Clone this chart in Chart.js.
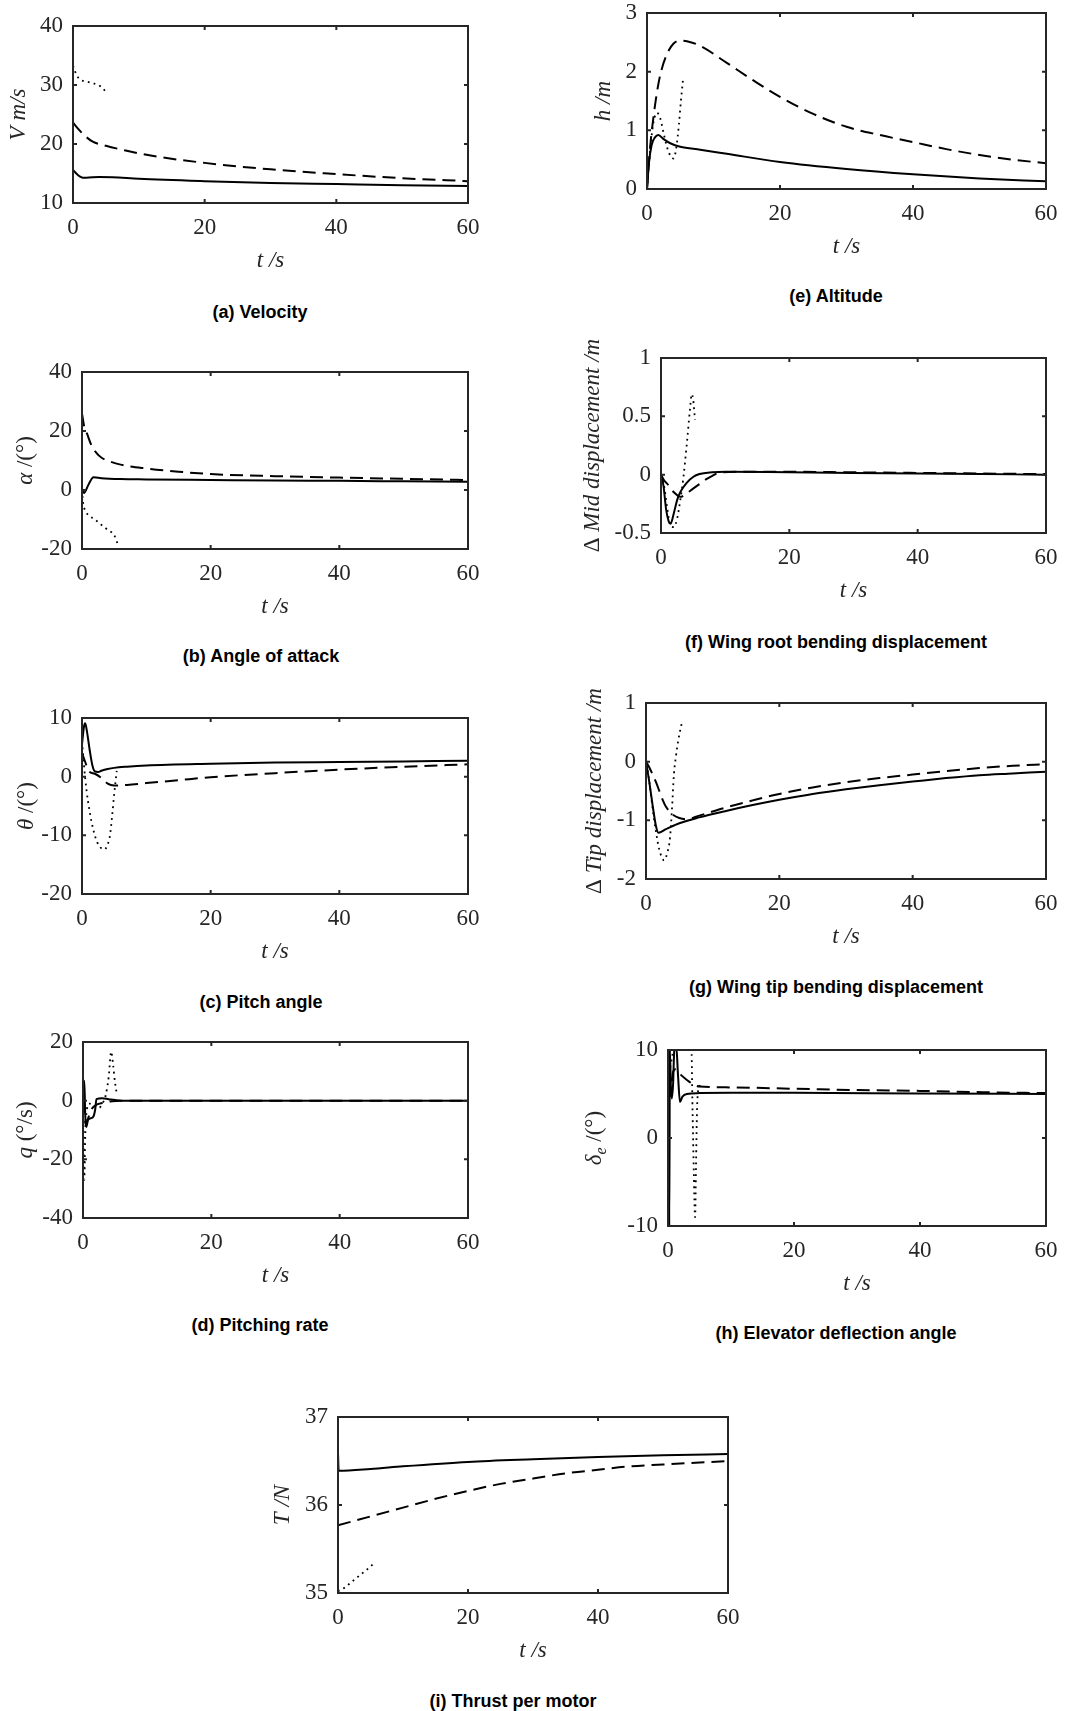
<!DOCTYPE html>
<html>
<head>
<meta charset="utf-8">
<script src="https://cdn.jsdelivr.net/npm/chart.js@4.4.1/dist/chart.umd.min.js"></script>
<style>
  body { margin: 0; background: #fff; }
  #page { position: relative; width: 1075px; height: 1711px; overflow: hidden; background: #fff; }
  canvas { position: absolute; }
  .cap { position: absolute; transform: translate(-50%, -50%); white-space: nowrap;
         font: bold 18px "Liberation Sans", Arial, sans-serif; color: #000; }
</style>
</head>
<body>
<div id="page"></div>
<script>
// time histories, [t (s), value]: solid / dashed / dotted
const velSolid = [[0,15.6],[0.5,15.0],[1,14.5],[1.5,14.3],[2,14.3],[4,14.4],[6,14.35],[10,14.1],[20,13.7],[30,13.4],[40,13.2],[50,13.0],[60,12.9]];
const velDashed = [[0,23.6],[1,22.3],[2,21.2],[3,20.4],[5,19.7],[8,18.9],[12,18.0],[20,16.8],[30,15.7],[40,14.9],[50,14.2],[60,13.7]];
const velDotted = [[0,33.3],[0.5,31.8],[1,31.0],[2,30.6],[3,30.3],[4,29.9],[4.5,29.5],[5.2,28.5]];

const altSolid = [[0,0],[0.3,0.45],[0.7,0.75],[1.2,0.88],[1.7,0.92],[2.5,0.85],[3.5,0.78],[5,0.72],[8,0.67],[12,0.6],[20,0.46],[30,0.34],[40,0.25],[50,0.18],[60,0.13]];
const altDashed = [[0,0],[0.5,0.75],[1,1.25],[1.5,1.65],[2,1.95],[3,2.3],[4,2.48],[5,2.53],[6,2.52],[8,2.44],[12,2.15],[16,1.85],[20,1.57],[25,1.28],[30,1.06],[35,0.92],[40,0.8],[45,0.68],[50,0.58],[55,0.5],[60,0.44]];
const altDotted = [[0,0],[0.5,0.7],[1,1.15],[1.5,1.3],[2,1.2],[2.5,0.95],[3,0.72],[3.5,0.57],[4,0.52],[4.4,0.7],[4.8,1.1],[5.1,1.5],[5.4,1.85]];

const aoaSolid = [[0,0.5],[0.3,-1],[1,1.8],[1.8,4.3],[3,4.0],[6,3.7],[10,3.6],[20,3.4],[30,3.2],[40,3.1],[50,2.95],[60,2.8]];
const aoaDashed = [[0,26],[0.3,22],[0.8,19],[1.5,15],[2.3,12.4],[3,11],[4.3,9.7],[6,8.6],[10,7.3],[15,6.2],[20,5.4],[30,4.7],[40,4.2],[50,3.8],[60,3.4]];
const aoaDotted = [[0,0],[0.15,-4],[0.5,-7],[1,-8.5],[2,-10],[3,-11.8],[4,-13.5],[5,-15.3],[5.5,-18]];

const midSolid = [[0,0],[0.4,-0.1],[0.8,-0.3],[1.2,-0.4],[1.5,-0.42],[2,-0.33],[2.5,-0.22],[3,-0.15],[4,-0.07],[5,-0.02],[6,0.005],[8,0.02],[10,0.025],[20,0.02],[30,0.015],[40,0.01],[50,0.005],[60,0]];
const midDashed = [[0,0],[0.5,-0.05],[1,-0.08],[1.5,-0.12],[2,-0.15],[3,-0.19],[4,-0.16],[5,-0.12],[6,-0.08],[7,-0.04],[8,-0.01],[9,0.015],[12,0.025],[20,0.025],[30,0.02],[40,0.015],[50,0.01],[60,0.005]];
const midDotted = [[0,0],[0.5,-0.1],[1,-0.3],[1.5,-0.44],[2,-0.45],[2.5,-0.38],[3,-0.22],[3.5,-0.02],[4,0.25],[4.5,0.55],[4.8,0.69],[5.0,0.65],[5.3,0.47]];

const pitchSolid = [[0,5.5],[0.3,8.5],[0.5,9.1],[0.8,7.5],[1.2,4.5],[1.6,2],[2,0.9],[2.5,0.8],[3,1.0],[4,1.3],[5,1.5],[7,1.7],[10,1.9],[20,2.2],[30,2.4],[40,2.5],[50,2.6],[60,2.7]];
const pitchDashed = [[0,4],[0.5,2.5],[1,1.0],[2,0.5],[3,-0.2],[4,-1.2],[5,-1.5],[7,-1.4],[10,-1.1],[15,-0.6],[20,-0.1],[30,0.6],[40,1.2],[50,1.7],[60,2.1]];
const pitchDotted = [[0,6],[0.3,2],[0.7,-2.3],[1.2,-6],[1.75,-9],[2.3,-11],[2.8,-12],[3.5,-12.4],[4,-11.5],[4.35,-10],[4.7,-6.5],[5,-3],[5.4,1]];

const tipSolid = [[0,0],[0.5,-0.35],[1,-0.75],[1.5,-1.1],[1.85,-1.21],[3,-1.15],[5,-1.05],[8,-0.95],[12,-0.84],[16,-0.74],[20,-0.65],[25,-0.55],[30,-0.47],[35,-0.4],[40,-0.34],[45,-0.28],[50,-0.23],[55,-0.2],[60,-0.17]];
const tipDashed = [[0,0],[0.5,-0.1],[1,-0.22],[1.5,-0.35],[2,-0.5],[2.5,-0.65],[3,-0.77],[4,-0.9],[5,-0.96],[6,-0.98],[8,-0.92],[12,-0.78],[16,-0.66],[20,-0.55],[25,-0.44],[30,-0.35],[35,-0.28],[40,-0.22],[45,-0.16],[50,-0.11],[55,-0.07],[60,-0.045]];
const tipDotted = [[0,0.05],[0.5,-0.35],[1,-0.8],[1.5,-1.2],[2,-1.5],[2.7,-1.68],[3.2,-1.55],[3.6,-1.3],[3.9,-0.8],[4.2,-0.2],[4.5,0.1],[4.85,0.37],[5.35,0.65]];

const rateSolid = [[0,0],[0.1,5],[0.2,6.8],[0.35,-5],[0.5,-9],[0.8,-6.5],[1.2,-6],[1.6,-5.5],[1.9,-3],[2.1,0.5],[3,0.8],[4,0.5],[5,0.2],[6,0],[60,0]];
const rateDashed = [[0,0],[0.2,-3],[0.4,-8],[0.8,-6],[1.3,-3],[2,-1.5],[2.6,-1],[3.5,-0.6],[4.5,-0.2],[6,0],[60,0]];
const rateDotted = [[0,0],[0.1,-15],[0.2,-27],[0.35,-12],[0.6,-3],[1,-1],[2,-2],[2.5,-2.5],[3,-1],[3.5,1.5],[4,8],[4.4,16.7],[4.7,12],[5.0,6],[5.3,2]];

const elevSolid = [[0,5],[0.05,-10.5],[0.12,10.5],[0.2,-10.5],[0.3,10],[0.45,6],[0.6,4.5],[0.8,6],[1.0,10],[1.3,10.5],[1.6,7],[1.9,4.1],[2.3,4.7],[3,5.0],[5,5.1],[10,5.15],[20,5.15],[40,5.05],[60,5.0]];
const elevDashed = [[0,10],[0.2,8],[0.5,6],[0.8,7.5],[1.2,7.8],[2,7.2],[3,6.6],[4,6.1],[5,5.85],[10,5.75],[20,5.6],[30,5.45],[40,5.35],[50,5.2],[60,5.1]];
const elevDotted = [[0,10],[0.3,8],[0.6,9],[1,10.5],[3.7,10.5],[3.9,3],[4.1,-4],[4.3,-9],[4.45,-3],[4.6,3],[4.8,5.5],[5.1,6.0]];

const thrSolid = [[0,36.6],[0.1,36.39],[5,36.41],[10,36.44],[20,36.49],[30,36.52],[40,36.545],[50,36.565],[60,36.58]];
const thrDashed = [[0,35.77],[5,35.87],[10,35.97],[15,36.07],[20,36.16],[25,36.24],[30,36.3],[35,36.36],[40,36.4],[45,36.44],[50,36.46],[55,36.48],[60,36.5]];
const thrDotted = [[0,35.02],[1,35.06],[2,35.12],[3,35.18],[4,35.24],[5,35.3],[5.4,35.33]];

const timeTicks = [0, 20, 40, 60];

// panel layout: plot box on the page, y range, axis label pieces
const panels = [
  { box: [73, 26, 468, 203], y: [10, 40, 10], title: [["V m/s", 1]], tx: 19,
    data: [velSolid, velDashed, velDotted], cap: "(a) Velocity", cx: 260, cy: 312 },
  { box: [647, 13, 1046, 189], y: [0, 3, 1], title: [["h /m", 1]], tx: 604,
    data: [altSolid, altDashed, altDotted], cap: "(e) Altitude", cx: 836, cy: 296 },
  { box: [82, 372, 468, 549], y: [-20, 40, 20], title: [["α", 1], [" /(°)", 0]], tx: 26,
    data: [aoaSolid, aoaDashed, aoaDotted], cap: "(b) Angle of attack", cx: 261, cy: 656 },
  { box: [661, 358, 1046, 533], y: [-0.5, 1, 0.5], title: [["Δ ", 0], ["Mid displacement /m", 1]], tx: 593,
    data: [midSolid, midDashed, midDotted], cap: "(f) Wing root bending displacement", cx: 836, cy: 642 },
  { box: [82, 718, 468, 894], y: [-20, 10, 10], title: [["θ", 1], [" /(°)", 0]], tx: 27,
    data: [pitchSolid, pitchDashed, pitchDotted], cap: "(c) Pitch angle", cx: 261, cy: 1002 },
  { box: [646, 703, 1046, 879], y: [-2, 1, 1], title: [["Δ ", 0], ["Tip displacement /m", 1]], tx: 595,
    data: [tipSolid, tipDashed, tipDotted], cap: "(g) Wing tip bending displacement", cx: 836, cy: 987 },
  { box: [83, 1042, 468, 1218], y: [-40, 20, 20], title: [["q", 1], [" (°/s)", 0]], tx: 26,
    data: [rateSolid, rateDashed, rateDotted], cap: "(d) Pitching rate", cx: 260, cy: 1325 },
  { box: [668, 1050, 1046, 1226], y: [-10, 10, 10], title: [["δ", 1], ["e", 2], [" /(°)", 0]], tx: 595,
    data: [elevSolid, elevDashed, elevDotted], cap: "(h) Elevator deflection angle", cx: 836, cy: 1333 },
  { box: [338, 1417, 728, 1593], y: [35, 37, 1], title: [["T /N", 1]], tx: 283,
    data: [thrSolid, thrDashed, thrDotted], cap: "(i) Thrust per motor", cx: 513, cy: 1701 }
];

const SERIF = "'Liberation Serif', 'DejaVu Serif', serif";
const INK = "#262626";
const X_AXIS_H = 72;
const styles = [
  { borderWidth: 2, borderDash: [] },
  { borderWidth: 2, borderDash: [13, 7] },
  { borderWidth: 1.8, borderDash: [1.8, 4.2] }
];

// box with inward ticks on all four sides, plus the y label
const framePlugin = {
  id: "frame",
  afterDraw(chart, args, opts) {
    const { ctx, chartArea: a, scales } = chart;
    ctx.save();
    ctx.strokeStyle = INK;
    ctx.lineWidth = 2;
    ctx.strokeRect(a.left, a.top, a.right - a.left, a.bottom - a.top);
    ctx.beginPath();
    scales.x.ticks.forEach(t => {
      const px = scales.x.getPixelForValue(t.value);
      ctx.moveTo(px, a.bottom); ctx.lineTo(px, a.bottom - 4);
      ctx.moveTo(px, a.top); ctx.lineTo(px, a.top + 4);
    });
    scales.y.ticks.forEach(t => {
      const py = scales.y.getPixelForValue(t.value);
      ctx.moveTo(a.left, py); ctx.lineTo(a.left + 4, py);
      ctx.moveTo(a.right, py); ctx.lineTo(a.right - 4, py);
    });
    ctx.stroke();

    // rotated y label made of upright / italic / subscript pieces
    const fontOf = k => (k === 0 ? "" : "italic ") + (k === 2 ? "16px " : "23px ") + SERIF;
    let total = 0;
    opts.pieces.forEach(([s, k]) => { ctx.font = fontOf(k); total += ctx.measureText(s).width; });
    ctx.translate(opts.x, (a.top + a.bottom) / 2);
    ctx.rotate(-Math.PI / 2);
    ctx.fillStyle = INK;
    ctx.textBaseline = "middle";
    ctx.textAlign = "left";
    let cur = -total / 2;
    opts.pieces.forEach(([s, k]) => {
      ctx.font = fontOf(k);
      ctx.fillText(s, cur, k === 2 ? 7 : 0);
      cur += ctx.measureText(s).width;
    });
    ctx.restore();
  }
};

const page = document.getElementById("page");

panels.forEach(p => {
  const [l, t, r, b] = p.box;
  const yW = l - p.tx + 20;        // room for the y label + tick labels
  const padT = Math.min(40, t);
  const padR = 25;
  const width = yW + (r - l) + padR;
  const height = padT + (b - t) + X_AXIS_H;

  const canvas = document.createElement("canvas");
  canvas.width = width;
  canvas.height = height;
  canvas.style.left = (l - yW) + "px";
  canvas.style.top = (t - padT) + "px";
  canvas.style.width = width + "px";
  canvas.style.height = height + "px";
  page.appendChild(canvas);

  const cap = document.createElement("div");
  cap.className = "cap";
  cap.textContent = p.cap;
  cap.style.left = p.cx + "px";
  cap.style.top = p.cy + "px";
  page.appendChild(cap);

  new Chart(canvas.getContext("2d"), {
    type: "line",
    data: {
      datasets: p.data.map((series, i) => ({
        data: series.map(([x, y]) => ({ x, y })),
        borderColor: "#000",
        borderWidth: styles[i].borderWidth,
        borderDash: styles[i].borderDash,
        borderCapStyle: "butt",
        pointRadius: 0,
        cubicInterpolationMode: "monotone",
        fill: false,
        clip: 0
      }))
    },
    options: {
      responsive: false,
      animation: false,
      devicePixelRatio: 1,
      layout: { padding: { left: 0, top: padT, right: padR, bottom: 0 } },
      plugins: {
        legend: { display: false },
        tooltip: { enabled: false },
        frame: { x: yW - (l - p.tx), pieces: p.title }
      },
      scales: {
        x: {
          type: "linear",
          min: 0, max: 60,
          afterBuildTicks: s => { s.ticks = timeTicks.map(v => ({ value: v })); },
          grid: { display: false, drawTicks: false },
          border: { display: false },
          ticks: { color: INK, padding: 11, autoSkip: false, maxRotation: 0,
                   font: { family: SERIF, size: 23, lineHeight: 1.2 } },
          title: { display: true, text: "t /s", color: INK, padding: 0,
                   font: { family: SERIF, size: 23, style: "italic", lineHeight: 1.2 } },
          afterFit: s => { s.height = X_AXIS_H; s.paddingLeft = 0; s.paddingRight = 0; }
        },
        y: {
          min: p.y[0], max: p.y[1],
          ticks: { stepSize: p.y[2], color: INK, padding: 10, autoSkip: false,
                   callback: v => String(v),
                   font: { family: SERIF, size: 23, lineHeight: 1.2 } },
          grid: { display: false, drawTicks: false },
          border: { display: false },
          afterFit: s => { s.width = yW; s.paddingTop = 0; s.paddingBottom = 0; }
        }
      }
    },
    plugins: [framePlugin]
  });
});
</script>
</body>
</html>
